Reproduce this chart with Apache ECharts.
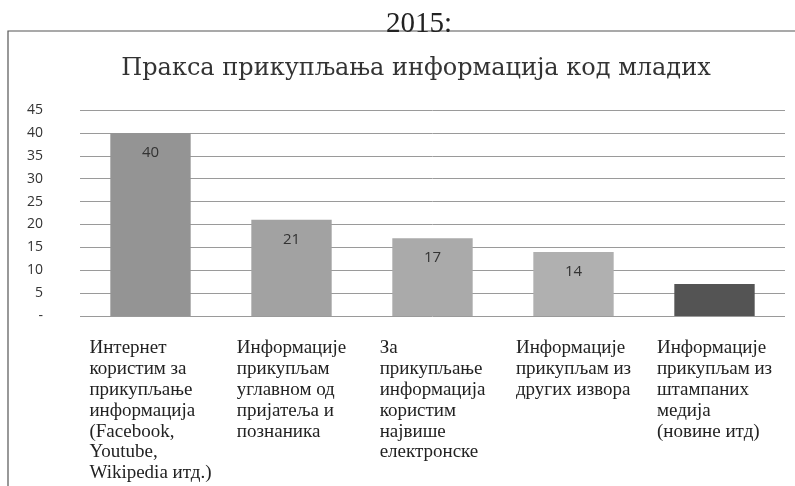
<!DOCTYPE html>
<html>
<head>
<meta charset="utf-8">
<script src="https://cdn.jsdelivr.net/npm/echarts@6/dist/echarts.min.js"></script>
<style>html,body{margin:0;padding:0;background:#fff}#c{width:795px;height:486px}</style>
</head>
<body>
<div id="c"></div>
<script>
const headerText = '2015:';
const chartTitle = 'Пракса прикупљања информација код младих';
const categories = [
  'Интернет\nкористим за\nприкупљање\nинформација\n(Facebook,\nYoutube,\nWikipedia итд.)',
  'Информације\nприкупљам\nуглавном од\nпријатеља и\nпознаника',
  'За\nприкупљање\nинформација\nкористим\nнајвише\nелектронске',
  'Информације\nприкупљам из\nдругих извора',
  'Информације\nприкупљам из\nштампаних\nмедија\n(новине итд)'
];
const values = [40, 21, 17, 14, 7];
const valueLabels = ['40', '21', '17', '14', ''];
const barColors = ['#949494', '#a2a2a2', '#aaaaaa', '#b0b0b0', '#545454'];
const yMin = 0, yMax = 45, yStep = 5;

const chart = echarts.init(document.getElementById('c'));
chart.setOption({
  animation: false,
  backgroundColor: '#fff',
  title: [
    { text: headerText, left: 414, top: 5, textAlign: 'center',
      textStyle: { fontFamily: 'Liberation Serif', fontSize: 29, fontWeight: 'normal', color: '#222' } },
    { text: chartTitle, left: 411, top: 52, textAlign: 'center',
      textStyle: { fontFamily: 'DejaVu Serif', fontSize: 24, fontWeight: 'normal', color: '#333' } }
  ],
  graphic: [
    { type: 'polyline', shape: { points: [[8, 486], [8, 31], [795, 31]] },
      style: { stroke: '#555', lineWidth: 1.2, fill: null } }
  ],
  grid: { left: 80, right: 10, top: 110, bottom: 170, containLabel: false },
  xAxis: {
    type: 'category',
    data: categories,
    axisLine: { show: false },
    axisTick: { show: false },
    axisLabel: {
      interval: 0,
      margin: 22,
      align: 'center',
      verticalAlign: 'top',
      formatter: function (v) { return v.split('\n').map(s => '{a|' + s + '}').join('\n'); },
      rich: { a: { align: 'left', fontFamily: 'Liberation Serif', fontSize: 19, lineHeight: 20.8, color: '#222' } }
    }
  },
  yAxis: {
    type: 'value', min: yMin, max: yMax, interval: yStep,
    axisLine: { show: false }, axisTick: { show: false },
    axisLabel: {
      margin: 37,
      fontFamily: 'Open Sans', fontSize: 14, color: '#333',
      formatter: function (v) { return v === 0 ? '-' : String(v); }
    },
    splitLine: { lineStyle: { color: '#9a9a9a', width: 1 } }
  },
  series: [{
    type: 'bar',
    barWidth: '57%',
    data: values.map((v, i) => ({ value: v, itemStyle: { color: barColors[i] } })),
    label: {
      show: true, position: 'insideTop', distance: 12,
      fontFamily: 'Open Sans', fontSize: 15, color: '#333',
      formatter: function (p) { return valueLabels[p.dataIndex]; }
    }
  }]
});
</script>
</body>
</html>
